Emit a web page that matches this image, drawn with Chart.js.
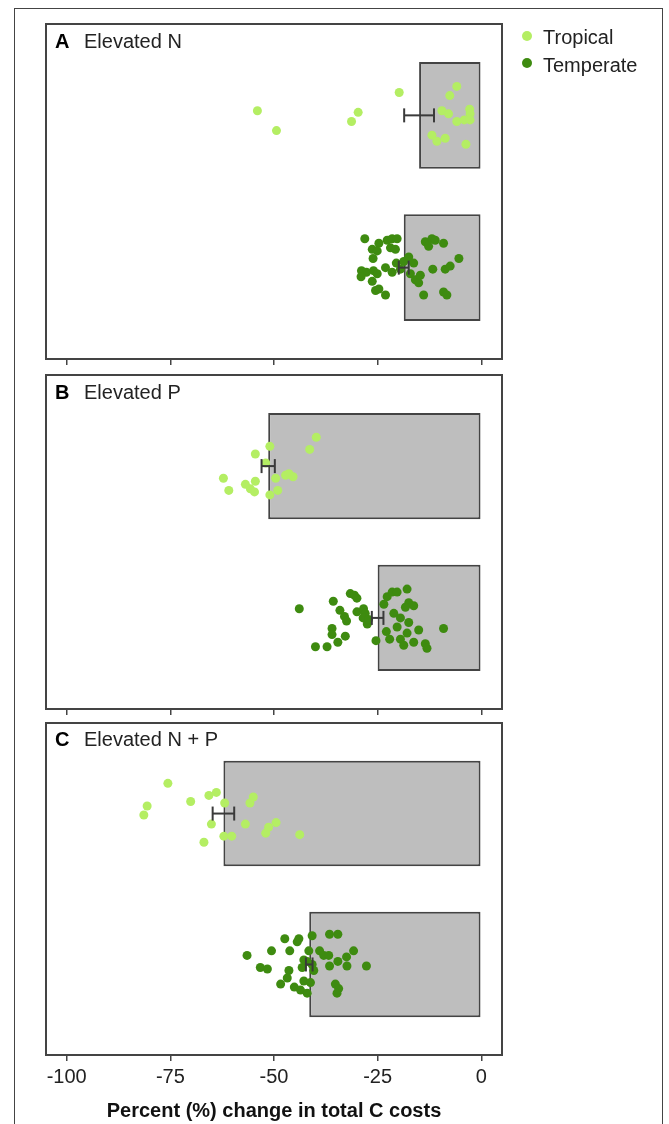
<!DOCTYPE html>
<html>
<head>
<meta charset="utf-8">
<title>Percent change in total C costs</title>
<script src="https://cdn.jsdelivr.net/npm/chart.js"></script>
<style>
  body { margin: 0; background: #fff; overflow: hidden; }
  #page { position: relative; width: 669px; height: 1124px; font-family: "Liberation Sans", Arial, sans-serif; }
  #outline { position: absolute; left: 14px; top: 8px; width: 647px; height: 1200px; border: 1px solid #444; }
  canvas { position: absolute; left: 0; }
  .lbl { position: absolute; font-size: 20px; line-height: 20px; color: #222; white-space: nowrap; }
  .letter { font-weight: bold; color: #000; }
  .dot { position: absolute; width: 10px; height: 10px; border-radius: 50%; }
</style>
</head>
<body>
<div id="page">
  <div id="outline"></div>
  <canvas id="panelN" width="669" height="370" style="top:0px"></canvas>
  <canvas id="panelP" width="669" height="350" style="top:370px"></canvas>
  <canvas id="panelNP" width="669" height="404" style="top:720px"></canvas>

  <div class="lbl letter" style="left:55px; top:31px">A</div>
  <div class="lbl" style="left:84px; top:31px">Elevated N</div>
  <div class="lbl letter" style="left:55px; top:382px">B</div>
  <div class="lbl" style="left:84px; top:382px">Elevated P</div>
  <div class="lbl letter" style="left:55px; top:729px">C</div>
  <div class="lbl" style="left:84px; top:729px">Elevated N + P</div>

  <div class="dot" id="dotTrop" style="left:522px; top:31px"></div>
  <div class="lbl" style="left:543px; top:27px">Tropical</div>
  <div class="dot" id="dotTemp" style="left:522px; top:58px"></div>
  <div class="lbl" style="left:543px; top:55px">Temperate</div>
</div>

<script>
const groups = ['Tropical', 'Temperate'];
const groupPos = [2, 1];
const groupColors = ['#b4ee63', '#3e8b10'];

// A - Elevated N
const nTropX = [-54.0, -49.4, -29.7, -31.3, -19.8, -5.9, -7.6, -9.5, -7.9, -2.8, -2.7, -5.9, -4.1, -2.7, -11.9, -10.7, -8.7, -3.7];
const nTropJitter = [0.03, -0.10, 0.02, -0.04, 0.15, 0.19, 0.13, 0.03, 0.01, 0.04, 0.01, -0.04, -0.03, -0.03, -0.13, -0.17, -0.15, -0.19];
const nTempX = [-28.1, -24.7, -26.3, -25.1, -22.7, -21.5, -20.3, -21.9, -20.7, -26.1, -28.9, -27.7, -26.0, -25.1, -23.1, -21.5, -29.0, -26.3, -25.5, -24.7, -23.1, -20.5, -18.7, -17.5, -16.3, -17.1, -15.9, -15.1, -14.7, -13.5, -12.7, -11.9, -11.1, -9.1, -11.7, -8.7, -7.5, -5.4, -13.9, -9.1, -8.3, -19.5];
const nTempJitter = [0.19, 0.16, 0.12, 0.11, 0.18, 0.19, 0.19, 0.13, 0.12, 0.06, -0.02, -0.03, -0.02, -0.04, 0.00, -0.03, -0.06, -0.09, -0.15, -0.14, -0.18, 0.03, 0.04, 0.07, 0.03, -0.04, -0.08, -0.10, -0.05, 0.17, 0.14, 0.19, 0.18, 0.16, -0.01, -0.01, 0.01, 0.06, -0.18, -0.16, -0.18, -0.01];
const nMeans = [-15.0, -18.7];
const nSe = [3.6, 1.2];

// B - Elevated P
const pTropX = [-39.8, -41.4, -51.0, -54.5, -52.0, -62.2, -60.9, -56.9, -55.7, -54.7, -54.5, -49.6, -47.2, -46.4, -45.4, -49.1, -51.0];
const pTropJitter = [0.19, 0.11, 0.13, 0.08, 0.02, -0.08, -0.16, -0.12, -0.15, -0.17, -0.10, -0.08, -0.06, -0.05, -0.07, -0.16, -0.19];
const pTempX = [-43.9, -35.7, -31.6, -30.6, -30.0, -34.1, -33.0, -32.5, -30.0, -28.4, -28.0, -28.5, -27.5, -36.0, -36.0, -32.8, -34.6, -37.2, -40.0, -25.4, -23.5, -22.7, -21.5, -20.3, -17.9, -17.5, -18.3, -16.3, -21.1, -19.5, -17.5, -20.3, -22.9, -17.9, -15.1, -22.1, -19.5, -18.7, -16.3, -13.5, -13.1, -9.1, -27.2];
const pTempJitter = [0.06, 0.11, 0.16, 0.15, 0.13, 0.05, 0.01, -0.02, 0.04, 0.06, 0.03, 0.00, -0.04, -0.07, -0.11, -0.12, -0.16, -0.19, -0.19, -0.15, 0.09, 0.14, 0.17, 0.17, 0.19, 0.10, 0.07, 0.08, 0.03, 0.00, -0.03, -0.06, -0.09, -0.10, -0.08, -0.14, -0.14, -0.18, -0.16, -0.17, -0.20, -0.07, -0.01];
const pMeans = [-51.4, -25.0];
const pSe = [1.6, 1.4];

// C - Elevated N + P
const npTropX = [-75.6, -80.6, -81.4, -70.1, -65.7, -63.9, -61.9, -65.1, -66.9, -62.1, -60.2, -56.9, -55.8, -55.0, -52.0, -51.3, -49.5, -43.8];
const npTropJitter = [0.20, 0.05, -0.01, 0.08, 0.12, 0.14, 0.07, -0.07, -0.19, -0.15, -0.15, -0.07, 0.07, 0.11, -0.13, -0.09, -0.06, -0.14];
const npTempX = [-56.5, -50.6, -53.3, -51.6, -47.4, -46.2, -44.4, -44.0, -40.8, -36.6, -34.6, -46.4, -46.8, -48.4, -45.1, -43.6, -42.0, -42.8, -41.2, -43.2, -42.0, -41.6, -40.4, -39.0, -38.0, -36.8, -36.6, -34.6, -32.4, -32.5, -30.8, -27.7, -35.2, -34.4, -34.8, -42.8, -40.8];
const npTempJitter = [0.06, 0.09, -0.02, -0.03, 0.17, 0.09, 0.15, 0.17, 0.19, 0.20, 0.20, -0.04, -0.09, -0.13, -0.15, -0.17, -0.19, -0.11, -0.12, -0.02, 0.02, 0.09, -0.04, 0.09, 0.06, 0.06, -0.01, 0.02, -0.01, 0.05, 0.09, -0.01, -0.13, -0.16, -0.19, 0.03, 0.00];
const npMeans = [-62.2, -41.5];
const npSe = [2.6, 0.8];

const xTickStep = 25;
const axisTitle = 'Percent (%) change in total C costs';
const fontFamily = '"Liberation Sans", Arial, sans-serif';

Chart.defaults.font.family = fontFamily;

document.getElementById('dotTrop').style.background = groupColors[0];
document.getElementById('dotTemp').style.background = groupColors[1];

// box round the plot area, like R's box()
const framePlugin = {
    id: 'frame',
    afterDatasetsDraw(chart) {
        const { ctx, chartArea: a } = chart;
        ctx.save();
        ctx.strokeStyle = '#444';
        ctx.lineWidth = 2;
        ctx.strokeRect(a.left, a.top, a.right - a.left, a.bottom - a.top);
        ctx.restore();
    }
};

function makePanel(canvasId, tropX, tropJitter, tempX, tempJitter, means, ses, padding, isBottom) {
    const xs = [tropX, tempX];
    const jitters = [tropJitter, tempJitter];

    const bars = {
        type: 'bar',
        indexAxis: 'y',
        data: means.map((m, i) => ({ x: m, y: groupPos[i] })),
        backgroundColor: '#bebebe',
        borderColor: '#444',
        borderWidth: 2,
        borderSkipped: false,
        categoryPercentage: 1,
        barPercentage: 0.7,
        order: 3
    };

    const points = groups.map((g, i) => ({
        type: 'scatter',
        label: g,
        data: xs[i].map((v, k) => ({ x: v, y: groupPos[i] + jitters[i][k] })),
        backgroundColor: groupColors[i],
        borderWidth: 0,
        pointRadius: 4.5,
        order: 2
    }));

    const errorBars = means.map((m, i) => ({
        type: 'line',
        data: [{ x: m - ses[i], y: groupPos[i] }, { x: m + ses[i], y: groupPos[i] }],
        borderColor: '#3a3a3a',
        borderWidth: 2,
        pointStyle: 'line',
        rotation: 90,
        pointRadius: 7,
        pointBorderColor: '#3a3a3a',
        pointBorderWidth: 2,
        fill: false,
        order: 1
    }));

    return new Chart(document.getElementById(canvasId).getContext('2d'), {
        type: 'bar',
        data: { datasets: [bars, ...points, ...errorBars] },
        plugins: [framePlugin],
        options: {
            responsive: false,
            animation: false,
            layout: { padding: padding, autoPadding: false },
            plugins: {
                legend: { display: false },
                tooltip: { enabled: false }
            },
            scales: {
                x: {
                    type: 'linear',
                    offset: false,
                    min: -105,
                    max: 5,
                    ticks: {
                        stepSize: xTickStep,
                        includeBounds: false,
                        display: isBottom,
                        color: '#222',
                        padding: 4,
                        font: { size: 20 }
                    },
                    grid: {
                        offset: false,
                        drawOnChartArea: false,
                        drawTicks: true,
                        tickLength: 6,
                        color: '#444',
                        lineWidth: 1.5
                    },
                    border: { display: false },
                    title: {
                        display: isBottom,
                        text: axisTitle,
                        color: '#111',
                        font: { size: 20, weight: 'bold' },
                        padding: { top: 6, bottom: 0 }
                    }
                },
                y: {
                    type: 'linear',
                    display: false,
                    offset: false,
                    grid: { offset: false },
                    beginAtZero: false,
                    min: 0.4,
                    max: 2.6,
                    ticks: { stepSize: 1, includeBounds: false }
                }
            }
        }
    });
}

makePanel('panelN', nTropX, nTropJitter, nTempX, nTempJitter, nMeans, nSe,
    { left: 46, right: 167, top: 24, bottom: 5 }, false);
makePanel('panelP', pTropX, pTropJitter, pTempX, pTempJitter, pMeans, pSe,
    { left: 46, right: 167, top: 5, bottom: 5 }, false);
makePanel('panelNP', npTropX, npTropJitter, npTempX, npTempJitter, npMeans, npSe,
    { left: 46, right: 167, top: 3, bottom: 1 }, true);
</script>
</body>
</html>
